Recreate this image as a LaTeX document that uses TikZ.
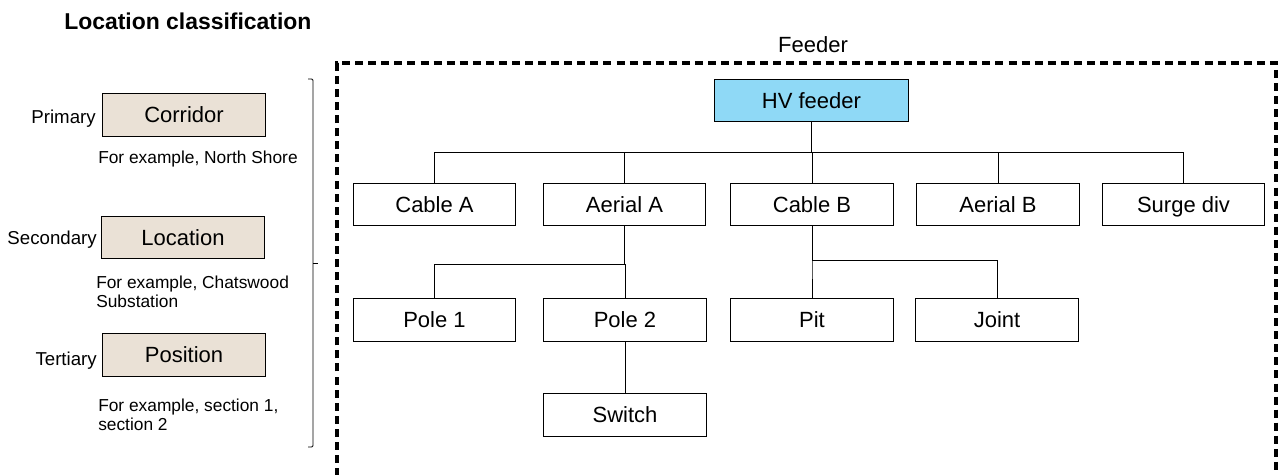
\documentclass[tikz,border=0pt]{standalone}
\usepackage{fontspec}
\setmainfont{Liberation Sans}
\usepackage{xcolor}
\usepackage{tikz}
\usetikzlibrary{positioning,calc}
\definecolor{locfill}{RGB}{234,225,214}
\definecolor{hvfill}{RGB}{143,217,246}

\begin{document}
\begin{tikzpicture}[x=0.75pt,y=-0.75pt,
  box/.style={draw,line width=0.9pt,minimum width=122pt,minimum height=32pt,inner sep=0pt,
    text height=11.8pt,text depth=0pt,font=\fontsize{16.5}{19}\selectfont},
  lvl/.style={box,fill=locfill},
  lbl/.style={inner sep=0pt,font=\fontsize{14}{16}\selectfont},
  note/.style={inner sep=0pt,align=left,font=\fontsize{13}{14.3}\selectfont},
  wire/.style={line width=0.7pt},
  frame/.style={line width=2.3pt,dash pattern=on 6pt off 3.8pt}]
  \useasboundingbox (0,0) rectangle (1279,475);
  \node[inner sep=0pt,anchor=west,font=\fontsize{17.2}{20}\selectfont\bfseries] (title) at (64,21) {Location classification};
  % levels on the left
  \node[lvl] (corr) at (184,115) {Corridor};
  \node[lvl] (loc)  at (183,237.5) {Location};
  \node[lvl] (pos)  at (184,355) {Position};
  \node[lbl,anchor=east] (prim) at (96,119) {Primary};
  \node[lbl,anchor=east] (sec)  at (97,240) {Secondary};
  \node[lbl,anchor=east] (ter)  at (97,361) {Tertiary};
  \node[note,anchor=west] (ex1) at (98,159) {For example, North Shore};
  \node[note,anchor=west] (ex2) at (96,292) {For example, Chatswood\\Substation};
  \node[note,anchor=west] (ex3) at (98,415) {For example, section 1,\\section 2};
  \draw[wire,rounded corners=1pt] (308,79) -- (313,79) -- (313,447) -- (308,447);
  \draw[wire] (313,263) -- (318,263);
  % feeder tree
  \draw[frame] (337,476) -- (337,63) -- (1276,63) -- (1276,476);
  \node[inner sep=0pt,font=\fontsize{16.5}{19}\selectfont] (fdr) at (813,45) {Feeder};
  \node[box,fill=hvfill,minimum width=146pt] (hv) at (811.5,100.5) {HV feeder};
  \node[box] (cabA)  at (434.5,204.5) {Cable A};
  \node[box] (aerA)  at (624.5,204.5) {Aerial A};
  \node[box] (cabB)  at (812,204.5) {Cable B};
  \node[box] (aerB)  at (998,204.5) {Aerial B};
  \node[box] (surge) at (1183.5,204.5) {Surge div};
  \node[box] (pole1) at (434.5,320) {Pole 1};
  \node[box] (pole2) at (625,320) {Pole 2};
  \node[box] (pit)   at (812,320) {Pit};
  \node[box] (joint) at (997,320) {Joint};
  \node[box] (sw)    at (625,415) {Switch};
  \foreach \c in {cabA,aerA,cabB,aerB,surge}
    \draw[wire] (hv.south) -- ++(0,30) -| (\c.north);
  \foreach \c in {pole1,pole2}
    \draw[wire] (aerA.south) -- ++(0,38) -| (\c.north);
  \foreach \c in {pit,joint}
    \draw[wire] (cabB.south) -- ++(0,34) -| (\c.north);
  \draw[wire] (pole2) -- (sw);
\end{tikzpicture}
\end{document}
